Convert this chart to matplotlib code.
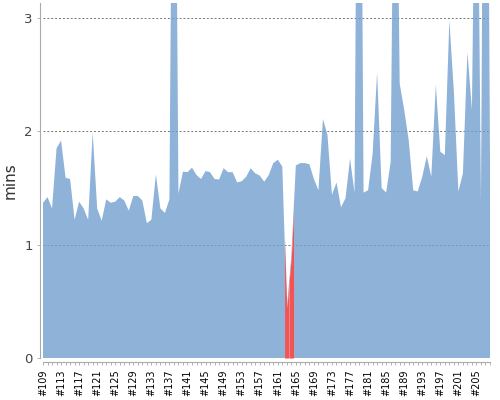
import numpy as np
import matplotlib
matplotlib.use('Agg')
import matplotlib.pyplot as plt

# build numbers and durations (minutes)
first_build = 109
durations = [1.37, 1.42, 1.32, 1.85, 1.92, 1.59, 1.58, 1.22, 1.38, 1.32,
             1.22, 1.99, 1.32, 1.21, 1.40, 1.37, 1.38, 1.42, 1.39, 1.30,
             1.43, 1.43, 1.39, 1.19, 1.22, 1.62, 1.32, 1.28, 1.40, 7.0,
             1.45, 1.645, 1.64, 1.68, 1.615, 1.58, 1.65, 1.64, 1.58, 1.575,
             1.675, 1.64, 1.64, 1.55, 1.56, 1.60, 1.675, 1.63, 1.61, 1.556,
             1.615, 1.72, 1.75, 1.69, 0.44, 0.9, 1.70, 1.72, 1.72, 1.71,
             1.58, 1.48, 2.11, 1.97, 1.44, 1.55, 1.33, 1.41, 1.76, 1.46,
             7.9, 1.46, 1.48, 1.80, 2.52, 1.50, 1.46, 1.73, 6.0, 2.42,
             2.19, 1.92, 1.48, 1.47, 1.60, 1.78, 1.60, 2.41, 1.82, 1.79,
             2.98, 2.35, 1.47, 1.63, 2.70, 2.19, 5.7, 1.38, 8.5, 1.78]
failed_builds = [163, 164]

builds = [first_build + k for k in range(len(durations))]
labels = ['#%d' % b if (b - first_build) % 4 == 0 else '' for b in builds]

BLUE = '#729FCF'
RED = '#EF2929'

fig = plt.figure(figsize=(5, 4), dpi=100)
ax = fig.add_axes([0.086, 0.105, 0.894, 0.8875])

x = np.arange(len(durations))
y = np.array(durations)

ax.fill_between(x, 0, y, color=BLUE, alpha=0.8, linewidth=0)

# failed builds are painted red over their own band
for b in failed_builds:
    i = builds.index(b)
    xs = np.linspace(i - 0.5, i + 0.5, 40)
    ys = np.interp(xs, x, y)
    ax.fill_between(xs, 0, ys, color='white', linewidth=0)
    ax.fill_between(xs, 0, ys, color=RED, alpha=0.8, linewidth=0)

ax.set_xlim(0, len(durations) - 1)
ax.set_ylim(0, 3.133)

ax.set_xticks(x)
ax.set_xticklabels(labels)
ax.set_yticks([0, 1, 2, 3])
ax.set_yticklabels(['0', '1', '2', '3'])
ax.tick_params(axis='x', length=2.2, width=0.6, color='#aaaaaa', pad=3,
               labelrotation=90, labelsize=7, labelcolor='black')
ax.tick_params(axis='y', length=2.2, width=0.6, color='#aaaaaa', pad=3,
               labelsize=9.5, labelcolor='#444444')

ax.set_ylabel('mins', fontsize=11, color='#333333', labelpad=5)

ax.set_axisbelow(True)
ax.grid(axis='y', color='#777777', linestyle=(0, (2, 2)), linewidth=0.7)

for s in ['top', 'right']:
    ax.spines[s].set_visible(False)
ax.spines['left'].set_position(('outward', 2.2))
ax.spines['bottom'].set_position(('outward', 3.2))
ax.spines['left'].set_color('#aaaaaa')
ax.spines['bottom'].set_color('#aaaaaa')

fig.savefig('out.png', dpi=100)
